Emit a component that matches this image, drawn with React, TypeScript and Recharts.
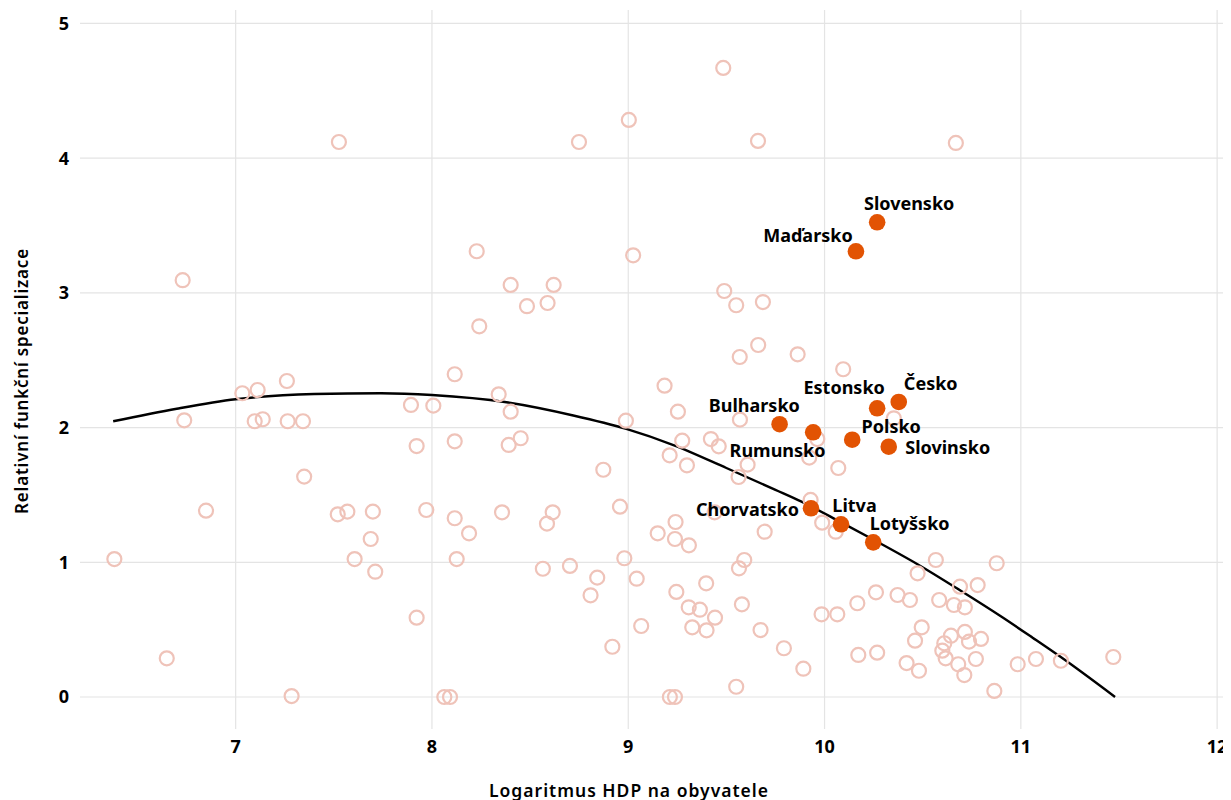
import React from 'react';
import { ComposedChart, Scatter, Line, XAxis, YAxis, CartesianGrid } from 'recharts';

// ---- data ----
const otherCountries: [number, number][] = [
  [6.730, 3.094], [6.738, 2.054], [7.034, 2.255], [7.112, 2.279], [7.261, 2.346], [7.097, 2.047],
  [7.138, 2.062], [7.265, 2.047], [7.343, 2.047], [7.349, 1.636], [7.893, 2.168], [8.007, 2.163],
  [7.922, 1.863], [8.116, 2.396], [8.116, 1.898], [6.849, 1.383], [6.382, 1.024], [6.649, 0.287],
  [7.285, 0.007], [7.520, 1.356], [7.569, 1.376], [7.699, 1.376], [7.688, 1.173], [7.606, 1.024],
  [7.711, 0.930], [7.971, 1.388], [8.116, 1.327], [8.126, 1.024], [7.922, 0.589], [8.063, 0],
  [8.092, 0], [8.228, 3.309], [9.025, 3.279], [8.401, 3.059], [8.620, 3.059], [8.484, 2.901],
  [8.589, 2.925], [8.241, 2.752], [9.489, 3.014], [9.550, 2.908], [9.686, 2.932], [9.662, 2.613],
  [9.568, 2.524], [9.863, 2.544], [8.340, 2.247], [8.401, 2.118], [8.391, 1.871], [8.452, 1.921],
  [8.873, 1.687], [8.988, 2.051], [9.185, 2.311], [9.253, 2.118], [9.569, 2.059], [9.275, 1.903],
  [9.421, 1.915], [9.461, 1.861], [9.211, 1.794], [9.299, 1.720], [9.608, 1.725], [9.562, 1.633],
  [9.922, 1.777], [8.189, 1.215], [8.357, 1.371], [8.615, 1.371], [8.586, 1.287], [8.958, 1.413],
  [8.565, 0.952], [8.703, 0.973], [8.842, 0.886], [8.808, 0.755], [8.980, 1.030], [9.043, 0.878],
  [8.919, 0.373], [9.066, 0.527], [9.212, 0], [9.238, 0], [9.150, 1.215], [9.241, 1.299],
  [9.238, 1.173], [9.309, 1.126], [9.245, 0.780], [9.308, 0.666], [9.365, 0.648], [9.397, 0.844],
  [9.442, 0.589], [9.326, 0.517], [9.399, 0.495], [9.564, 0.955], [9.591, 1.017], [9.579, 0.688],
  [9.674, 0.497], [9.793, 0.362], [9.892, 0.210], [9.550, 0.076], [9.695, 1.227], [9.440, 1.371],
  [9.929, 1.463], [9.988, 1.294], [10.057, 1.227], [9.985, 0.614], [10.065, 0.614], [10.167, 0.696],
  [10.262, 0.777], [10.172, 0.312], [10.268, 0.329], [10.372, 0.757], [10.435, 0.720], [10.474, 0.918],
  [10.567, 1.017], [10.877, 0.993], [10.690, 0.819], [10.780, 0.831], [10.584, 0.720], [10.659, 0.683],
  [10.715, 0.666], [10.495, 0.517], [10.644, 0.455], [10.715, 0.483], [10.610, 0.399], [10.736, 0.411],
  [10.797, 0.431], [10.461, 0.418], [10.600, 0.344], [10.617, 0.287], [10.771, 0.282], [10.681, 0.243],
  [10.418, 0.252], [10.481, 0.195], [10.712, 0.163], [10.865, 0.045], [10.984, 0.243], [11.077, 0.282],
  [11.204, 0.269], [11.471, 0.297], [10.095, 2.433], [10.353, 2.069], [9.963, 1.915], [10.070, 1.700],
  [7.526, 4.120], [8.749, 4.120], [9.003, 4.284], [9.484, 4.670], [9.661, 4.128], [10.669, 4.113],
];

const highlightNames = ['Slovensko', 'Maďarsko', 'Česko', 'Estonsko', 'Bulharsko', 'Rumunsko', 'Polsko', 'Slovinsko', 'Chorvatsko', 'Litva', 'Lotyšsko'];
const highlightX = [10.268, 10.160, 10.378, 10.268, 9.771, 9.942, 10.141, 10.327, 9.931, 10.084, 10.248];
const highlightY = [3.524, 3.309, 2.190, 2.143, 2.025, 1.965, 1.910, 1.858, 1.401, 1.282, 1.148];

const fitX = [6.376, 6.7, 7.0, 7.4, 7.74, 8.0, 8.38, 8.72, 8.99, 9.23, 9.5, 9.75, 9.88, 10.08, 10.25, 10.48, 10.69, 10.9, 11.06, 11.2, 11.48];
const fitY = [2.047, 2.14, 2.21, 2.249, 2.255, 2.242, 2.188, 2.09, 1.99, 1.87, 1.70, 1.538, 1.452, 1.30, 1.167, 0.98, 0.792, 0.597, 0.44, 0.30, 0.0];

const xTicks = [7, 8, 9, 10, 11, 12];
const yTicks = [0, 1, 2, 3, 4, 5];

const xTitle = 'Logaritmus HDP na obyvatele';
const yTitle = 'Relativní funkční specializace';

// ---- styling / placement (not data) ----
const labelOffsets: Record<string, { dx: number; dy: number }> = {
  'Slovensko': { dx: 32, dy: -12 },
  'Maďarsko': { dx: -48, dy: -9.6 },
  'Česko': { dx: 32, dy: -12 },
  'Estonsko': { dx: -33, dy: -14.3 },
  'Bulharsko': { dx: -25.3, dy: -12.6 },
  'Rumunsko': { dx: -35.6, dy: 24.7 },
  'Polsko': { dx: 39, dy: -7 },
  'Slovinsko': { dx: 59, dy: 7.3 },
  'Chorvatsko': { dx: -63.5, dy: 7.7 },
  'Litva': { dx: 13.5, dy: -12.6 },
  'Lotyšsko': { dx: 36.4, dy: -12.3 },
};

const FONT = "'Noto Sans', 'Open Sans', sans-serif";
const PINK = '#efc3b9';
const ORANGE = '#e25303';
const GRID = '#e4e4e4';

const otherData = otherCountries.map(([x, y]) => ({ x, y }));
const highlightData = highlightNames.map((name, i) => ({ name, x: highlightX[i], y: highlightY[i] }));
const fitData = fitX.map((x, i) => ({ x, y: fitY[i] }));

const W = 1223;
const H = 800;

const XTick = (props: any) => {
  const { x, y, payload } = props;
  return (
    <text x={x} y={y + 24} textAnchor="middle" fontFamily={FONT} fontWeight={700} fontSize={18} fill="#000">
      {payload.value}
    </text>
  );
};

const YTick = (props: any) => {
  const { x, y, payload } = props;
  return (
    <text x={x - 11} y={y + 6.5} textAnchor="end" fontFamily={FONT} fontWeight={700} fontSize={18} fill="#000">
      {payload.value}
    </text>
  );
};

const HollowDot = (props: any) => {
  const { cx, cy } = props;
  if (cx == null || cy == null) return <g />;
  return <circle cx={cx} cy={cy} r={7} fill="none" stroke={PINK} strokeWidth={2.2} />;
};

const SolidDot = (props: any) => {
  const { cx, cy } = props;
  if (cx == null || cy == null) return <g />;
  return <circle cx={cx} cy={cy} r={8.3} fill={ORANGE} stroke="none" />;
};

const LabelMark = (props: any) => {
  const { cx, cy, payload } = props;
  if (cx == null || cy == null) return <g />;
  const off = labelOffsets[payload.name] || { dx: 0, dy: -12 };
  return (
    <text x={cx + off.dx} y={cy + off.dy} textAnchor="middle" fontFamily={FONT} fontWeight={700} fontSize={18} fill="#000">
      {payload.name}
    </text>
  );
};

export default function App() {
  return (
    <div style={{ position: 'relative', width: W, height: H }}>
      <style>{'body{overflow:hidden}'}</style>
      <ComposedChart width={W} height={H} margin={{ top: 2, right: 7, bottom: 0, left: 0 }}>
        <CartesianGrid stroke={GRID} strokeWidth={1.2} syncWithTicks />
        <XAxis
          type="number"
          dataKey="x"
          domain={[6.207, 12.035]}
          ticks={xTicks}
          allowDataOverflow
          axisLine={false}
          tickLine={false}
          tickSize={0}
          tickMargin={0}
          height={79}
          tick={<XTick />}
          interval={0}
        />
        <YAxis
          type="number"
          dataKey="y"
          domain={[-0.2376, 5.1]}
          ticks={yTicks}
          allowDataOverflow
          axisLine={false}
          tickLine={false}
          tickSize={0}
          tickMargin={0}
          width={72}
          tick={<YTick />}
          interval={0}
        />
        <Scatter data={otherData} shape={<HollowDot />} isAnimationActive={false} />
        <Scatter data={highlightData} shape={<SolidDot />} isAnimationActive={false} />
        <Line data={fitData} dataKey="y" type="monotone" dot={false} stroke="#000" strokeWidth={2.4} isAnimationActive={false} />
        <Scatter data={highlightData} shape={<LabelMark />} isAnimationActive={false} />
      </ComposedChart>
      <svg width={W} height={H} style={{ position: 'absolute', left: 0, top: 0, pointerEvents: 'none' }}>
        <text
          transform="translate(19.7, 373) rotate(-90)"
          textAnchor="middle"
          fontFamily={FONT}
          fontWeight={600}
          fontSize={17}
          letterSpacing={0.8}
          fill="#000"
        >
          {yTitle}
        </text>
        <text x={621} y={789} textAnchor="middle" fontFamily={FONT} fontWeight={600} fontSize={17.5} letterSpacing={1} fill="#000">
          {xTitle}
        </text>
      </svg>
    </div>
  );
}
